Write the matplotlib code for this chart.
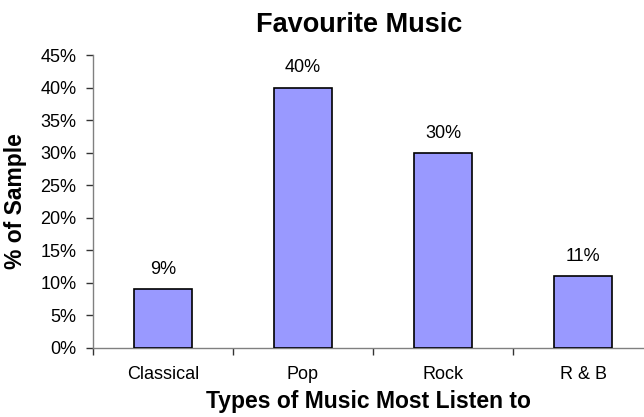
import matplotlib.pyplot as plt
from matplotlib.ticker import FixedLocator

categories = ["Classical", "Pop", "Rock", "R & B"]
shares = [9, 40, 30, 11]
y_ticks = [0, 5, 10, 15, 20, 25, 30, 35, 40, 45]

plt.rcParams["font.family"] = ["Liberation Sans", "DejaVu Sans"]

fig = plt.figure(figsize=(6.44, 4.17), dpi=100)
# axis runs off the right edge of the canvas, like the original export
ax = fig.add_axes([93 / 644, 1 - 348 / 417, 560 / 644, (348 - 55) / 417])

x = list(range(len(categories)))
ax.bar(x, shares, width=0.41, color="#9999ff", edgecolor="black", linewidth=1.2, zorder=3)

for xi, v in zip(x, shares):
    ax.annotate(f"{v}%", (xi, v), xytext=(0, 8), textcoords="offset points",
                ha="center", va="bottom", fontsize=13)

ax.set_xlim(-0.5, len(categories) - 0.5)
ax.set_ylim(0, 45)
ax.set_yticks(y_ticks)
ax.set_yticklabels([f"{t}%" for t in y_ticks], fontsize=13)
ax.set_xticks(x)
ax.set_xticklabels(categories, fontsize=13)
ax.tick_params(axis="x", which="major", length=0, pad=13)
ax.xaxis.set_minor_locator(FixedLocator([i - 0.5 for i in range(len(categories) + 1)]))
ax.tick_params(axis="x", which="minor", length=5, width=1, color="#333333")
ax.tick_params(axis="y", length=5, width=1, color="#333333", pad=7)

for side in ["top", "right"]:
    ax.spines[side].set_visible(False)
for side in ["left", "bottom"]:
    ax.spines[side].set_color("#808080")
    ax.spines[side].set_linewidth(1)

ax.set_ylabel("% of Sample", fontsize=16.5, fontweight="bold")
ax.yaxis.set_label_coords(-0.118, 0.5)
ax.set_xlabel("Types of Music Most Listen to", fontsize=16.5, fontweight="bold")
ax.xaxis.set_label_coords(0.491, -0.145)
fig.text(359 / 644, 1 - 25 / 417, "Favourite Music", ha="center", va="center",
         fontsize=19.5, fontweight="bold")

fig.savefig("out.png", dpi=100)
